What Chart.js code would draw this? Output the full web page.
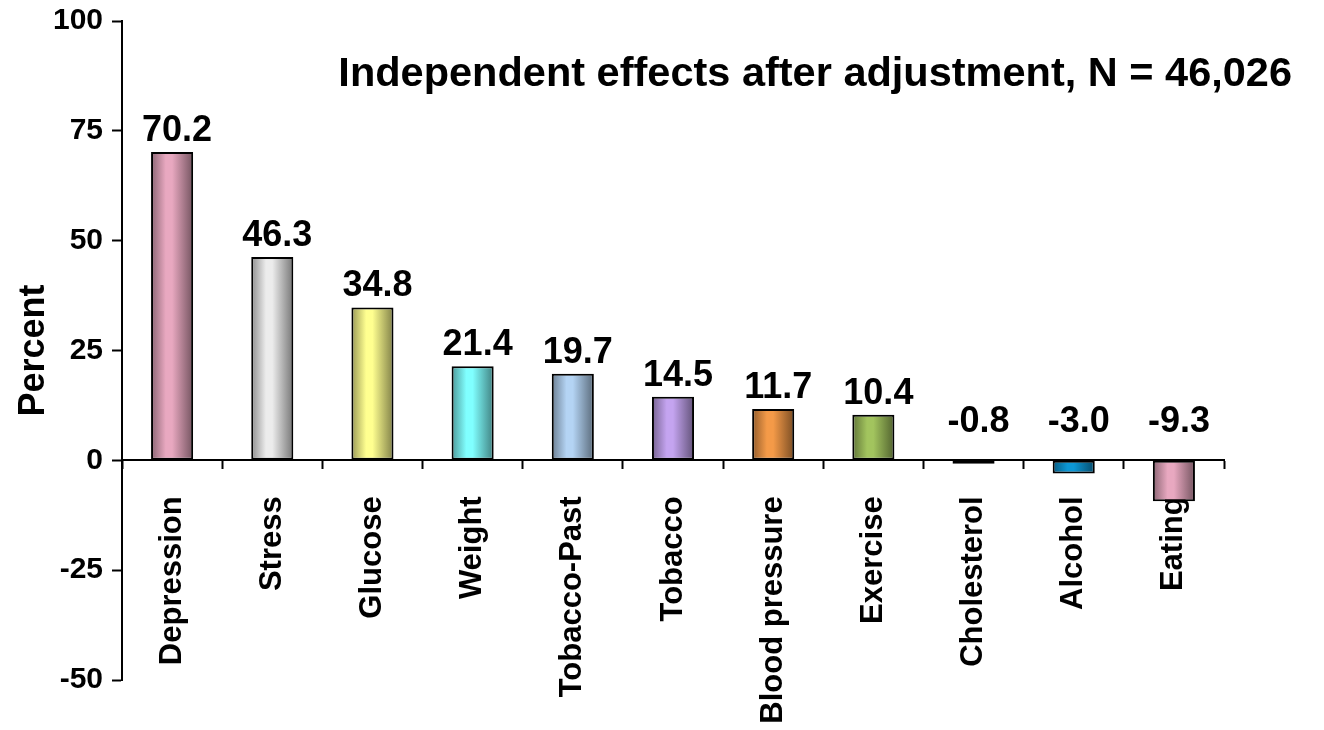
<!DOCTYPE html>
<html>
<head>
<meta charset="utf-8">
<script src="https://cdn.jsdelivr.net/npm/chart.js@4.4.0/dist/chart.umd.min.js"></script>
<style>
  html, body { margin: 0; padding: 0; background: #fff; }
  #wrap { width: 1324px; height: 730px; }
</style>
</head>
<body>
<div id="wrap"><canvas id="effects"></canvas></div>
<script>
const categories = ["Depression", "Stress", "Glucose", "Weight", "Tobacco-Past", "Tobacco",
  "Blood pressure", "Exercise", "Cholesterol", "Alcohol", "Eating"];
const percentValues = [70.2, 46.3, 34.8, 21.4, 19.7, 14.5, 11.7, 10.4, -0.8, -3.0, -9.3];
const barColors = ["#e8a8c0", "#ececec", "#ffff90", "#80ffff", "#b4d4f4", "#c4a4f0",
  "#f49a48", "#a2c45e", "#5a9c9c", "#0c96d4", "#e8a8c0"];
const yTicks = [-50, -25, 0, 25, 50, 75, 100];
const titleText = "Independent effects after adjustment, N = 46,026";

const FONT = "'Liberation Sans', Arial, sans-serif";
const BAR_PCT = 0.42;

function shade(hex, f) {
  const n = parseInt(hex.slice(1), 16);
  const r = Math.round(((n >> 16) & 255) * f);
  const g = Math.round(((n >> 8) & 255) * f);
  const b = Math.round((n & 255) * f);
  return "rgb(" + r + "," + g + "," + b + ")";
}

// cylinder-like shading across each bar
function barGradient(ctx) {
  const chart = ctx.chart;
  const base = barColors[ctx.dataIndex];
  const xScale = chart.scales.x;
  if (!chart.chartArea || !xScale || !xScale.width) return base;
  const cx = xScale.getPixelForValue(ctx.dataIndex);
  const w = xScale.width / categories.length * BAR_PCT;
  const g = chart.ctx.createLinearGradient(cx - w / 2, 0, cx + w / 2, 0);
  g.addColorStop(0, shade(base, 0.6));
  g.addColorStop(0.35, base);
  g.addColorStop(0.5, base);
  g.addColorStop(1, shade(base, 0.5));
  return g;
}

const valueLabels = {
  id: "valueLabels",
  afterDatasetsDraw(chart) {
    const c = chart.ctx;
    const zeroY = chart.scales.y.getPixelForValue(0);
    c.save();
    c.font = "bold 36px " + FONT;
    c.fillStyle = "#000";
    c.textAlign = "center";
    c.textBaseline = "alphabetic";
    chart.getDatasetMeta(0).data.forEach((bar, i) => {
      const v = percentValues[i];
      const y = v >= 0 ? bar.y - 11 : zeroY - 28;
      c.fillText(v.toFixed(1), bar.x + 5, y);
    });
    c.restore();
  }
};

const cornerTitle = {
  id: "cornerTitle",
  afterDraw(chart) {
    const c = chart.ctx;
    c.save();
    c.font = "bold 41.5px " + FONT;
    c.fillStyle = "#000";
    c.textAlign = "right";
    c.textBaseline = "alphabetic";
    c.fillText(titleText, chart.width - 32, 86);
    c.restore();
  }
};

new Chart("effects", {
  type: "bar",
  data: {
    labels: categories,
    datasets: [
      {
        data: percentValues,
        backgroundColor: barGradient,
        borderColor: "#000",
        borderWidth: 2,
        borderSkipped: false,
        barPercentage: BAR_PCT,
        categoryPercentage: 1,
      },
    ],
  },
  options: {
    responsive: true,
    maintainAspectRatio: false,
    animation: false,
    layout: {
      padding: { left: 0, right: 100, top: 0, bottom: 50 },
    },
    plugins: {
      legend: { display: false },
      tooltip: { enabled: false },
    },
    scales: {
      x: {
        position: { y: 0 },
        offset: true,
        border: { display: true, color: "#000", width: 2 },
        grid: {
          offset: true,
          drawOnChartArea: false,
          drawTicks: true,
          tickLength: 8,
          tickWidth: 2,
          tickColor: "#000",
        },
        ticks: {
          autoSkip: false,
          minRotation: 90,
          maxRotation: 90,
          padding: 28,
          color: "#000",
          font: { family: FONT, size: 31, weight: "bold" },
        },
      },
      y: {
        min: -50,
        max: 100,
        afterBuildTicks(scale) {
          scale.ticks = yTicks.map((v) => ({ value: v }));
        },
        afterFit(scale) {
          scale.width = 122;
          scale.paddingTop = 21;
        },
        border: { display: true, color: "#000", width: 2 },
        grid: {
          drawOnChartArea: false,
          drawTicks: true,
          tickLength: 10,
          tickWidth: 2,
          tickColor: "#000",
        },
        ticks: {
          padding: 9,
          color: "#000",
          font: { family: FONT, size: 30, weight: "bold" },
        },
        title: {
          display: true,
          text: "Percent",
          color: "#000",
          padding: { top: 12, bottom: 0 },
          font: { family: FONT, size: 36, weight: "bold" },
        },
      },
    },
  },
  plugins: [valueLabels, cornerTitle],
});
</script>
</body>
</html>
